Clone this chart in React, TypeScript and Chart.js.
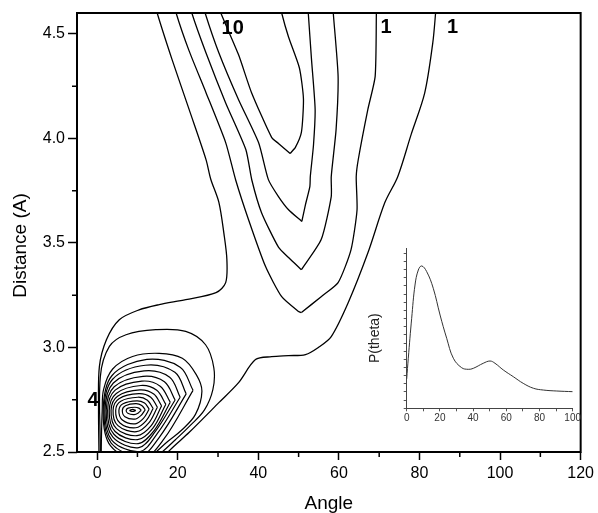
import React, { useEffect, useRef } from 'react';
import { Chart, registerables } from 'chart.js';

Chart.register(...registerables);

type P = [number, number];

// ---------- main axes ----------
const xMajorTicks = [0, 20, 40, 60, 80, 100, 120];
const xMinorTicks = [10, 30, 50, 70, 90, 110];
const yMajorTicks = [2.5, 3.0, 3.5, 4.0, 4.5];
const yMinorTicks = [2.75, 3.25, 3.75, 4.25];
const xTitle = 'Angle';
const yTitle = 'Distance (A)';

// ---------- open contour lines (Angle, Distance) ----------
const outerLeft: P[] = [[14.7, 4.63], [14.9, 4.6], [18.6, 4.377], [22.8, 4.14], [27.0, 3.9], [28.2, 3.805], [30.2, 3.695], [31.5, 3.54], [32.2, 3.42], [31.9, 3.31], [29.5, 3.262], [22.0, 3.229], [15.4, 3.205], [10.4, 3.18], [5.5, 3.133], [2.3, 3.037], [0.55, 2.908], [0.35, 2.7], [0.45, 2.5], [0.45, 2.47]];
const outerRight: P[] = [[84.1, 4.63], [84.0, 4.6], [83.3, 4.457], [81.3, 4.218], [77.9, 4.017], [74.6, 3.817], [71.4, 3.693], [67.2, 3.453], [62.3, 3.214], [58.1, 3.052], [54.9, 3.0], [51.7, 2.966], [47.5, 2.961], [43.3, 2.956], [39.3, 2.942], [35.1, 2.832], [30.2, 2.736], [22.8, 2.593], [17.6, 2.5], [17.0, 2.47]];
// valley contours: left branch down to the tip, right branch from the tip up
const valley1Left: P[] = [[30.4, 4.63], [30.7, 4.6], [35.1, 4.4], [38.3, 4.22], [43.3, 4.005], [45.0, 3.976], [47.9, 3.928]];
const valley1Right: P[] = [[47.9, 3.928], [49.2, 3.957], [50.7, 4.03], [51.2, 4.19], [50.2, 4.337], [47.5, 4.485], [45.8, 4.6], [45.6, 4.63]];
const valley2Left: P[] = [[26.6, 4.63], [26.8, 4.6], [30.2, 4.41], [35.1, 4.185], [40.1, 3.978], [42.5, 3.803], [45.0, 3.722], [47.5, 3.659], [50.8, 3.603]];
const valley2Right: P[] = [[50.8, 3.603], [51.7, 3.683], [52.8, 3.771], [52.9, 3.817], [53.7, 3.97], [54.1, 4.14], [53.2, 4.378], [52.4, 4.6], [52.3, 4.63]];
const valley3Left: P[] = [[23.4, 4.63], [23.5, 4.6], [27.0, 4.41], [31.9, 4.17], [36.9, 3.947], [38.4, 3.8], [40.8, 3.645], [45.0, 3.48], [47.5, 3.43], [50.7, 3.372]];
const valley3Right: P[] = [[50.7, 3.372], [55.6, 3.516], [58.1, 3.722], [58.1, 3.817], [59.3, 4.042], [59.8, 4.297], [58.6, 4.6], [58.5, 4.63]];
const valley4Left: P[] = [[19.5, 4.63], [19.6, 4.6], [22.8, 4.42], [27.0, 4.22], [31.9, 3.98], [34.4, 3.8], [37.6, 3.61], [41.8, 3.387], [45.8, 3.243], [50.0, 3.172], [50.7, 3.167]];
const valley4Right: P[] = [[50.7, 3.167], [55.6, 3.243], [59.8, 3.31], [63.0, 3.467], [64.5, 3.658], [64.3, 3.817], [64.8, 3.898], [67.2, 4.14], [69.0, 4.297], [69.3, 4.6], [69.3, 4.63]];

// ---------- closed rings around the main minimum ----------
const ring0: P[] = [[9.6, 2.699], [8.84, 2.704], [8.1, 2.699], [8.84, 2.694], [9.6, 2.699]];
const ring1: P[] = [[10.94, 2.7], [10.35, 2.71], [9.37, 2.714], [7.69, 2.71], [7.2, 2.699], [7.61, 2.685], [9.16, 2.679], [10.21, 2.687], [10.94, 2.7]];
const ring2: P[] = [[11.93, 2.702], [11.06, 2.723], [9.61, 2.731], [7.03, 2.721], [6.25, 2.699], [6.9, 2.669], [9.3, 2.657], [10.85, 2.674], [11.93, 2.702]];
const ring3: P[] = [[12.91, 2.705], [11.77, 2.734], [9.86, 2.745], [6.43, 2.731], [5.4, 2.699], [6.26, 2.653], [9.45, 2.635], [11.49, 2.661], [12.91, 2.705]];
const ring4: P[] = [[13.9, 2.708], [12.48, 2.748], [10.11, 2.762], [5.87, 2.743], [4.6, 2.699], [5.66, 2.639], [9.6, 2.616], [12.13, 2.649], [13.9, 2.708]];
const ring5: P[] = [[14.95, 2.714], [13.3, 2.762], [10.35, 2.779], [5.42, 2.755], [3.95, 2.699], [5.17, 2.626], [9.75, 2.597], [12.77, 2.638], [14.95, 2.714]];
const ring6: P[] = [[16.0, 2.721], [14.05, 2.777], [10.6, 2.797], [5.07, 2.767], [3.45, 2.699], [4.8, 2.612], [9.9, 2.578], [13.42, 2.626], [16.0, 2.721]];
const ring7: P[] = [[17.05, 2.728], [14.8, 2.795], [10.84, 2.818], [4.75, 2.78], [3.0, 2.699], [4.46, 2.598], [10.04, 2.559], [13.8, 2.613], [17.05, 2.728]];
const ring8: P[] = [[18.15, 2.738], [15.65, 2.815], [11.09, 2.839], [4.47, 2.796], [2.6, 2.699], [4.16, 2.585], [10.19, 2.54], [14.2, 2.604], [18.15, 2.738]];
const ring9: P[] = [[19.35, 2.749], [16.7, 2.836], [11.37, 2.862], [4.23, 2.812], [2.25, 2.699], [3.9, 2.571], [10.36, 2.521], [14.5, 2.6], [19.35, 2.749]];
const ring10: P[] = [[20.6, 2.762], [18.0, 2.858], [11.65, 2.888], [4.02, 2.83], [1.95, 2.699], [3.67, 2.556], [10.52, 2.501], [15.0, 2.59], [20.6, 2.762]];
const ring11: P[] = [[22.1, 2.778], [19.3, 2.881], [11.96, 2.915], [3.84, 2.848], [1.7, 2.699], [3.48, 2.543], [10.71, 2.482], [15.6, 2.575], [22.1, 2.778]];
const ring12: P[] = [[23.8, 2.795], [20.6, 2.906], [12.33, 2.943], [3.7, 2.866], [1.5, 2.699], [3.34, 2.529], [10.93, 2.463], [16.5, 2.56], [23.8, 2.795]];
const ring13: P[] = [[1.0, 2.45], [1.05, 2.55], [1.25, 2.7], [1.6, 2.8], [3.85, 2.897], [8.79, 2.957], [15.38, 2.972], [21.14, 2.948], [24.6, 2.87], [26.0, 2.79], [24.4, 2.68], [21.0, 2.605], [17.5, 2.55], [14.0, 2.49], [12.0, 2.46]];
const ring14: P[] = [[0.75, 2.45], [0.8, 2.511], [0.8, 2.862], [3.04, 3.005], [7.16, 3.061], [14.57, 3.085], [21.98, 3.077], [26.91, 3.013], [28.96, 2.902], [28.72, 2.798], [26.6, 2.7], [23.0, 2.625], [19.5, 2.56], [15.5, 2.49], [13.0, 2.46]];

const contourLines: P[][] = [outerLeft, outerRight];
const valleyLines: P[][] = [valley1Left, valley1Right, valley2Left, valley2Right, valley3Left, valley3Right, valley4Left, valley4Right];
const blobRings: P[][] = [ring0, ring1, ring2, ring3, ring4, ring5, ring6, ring7, ring8, ring9, ring10, ring11, ring12, ring13, ring14];

// ---------- contour level labels ----------
const labelTexts = ['10', '1', '1', '4'];
const labelX = [33.65, 71.7, 88.2, -1.04];
const labelY = [4.525, 4.53, 4.53, 2.745];

// ---------- inset P(theta) ----------
const insetTheta = [0, 0.96, 3.0, 5.0, 7.0, 9.04, 12.05, 16.0, 20.1, 24.1, 28.1, 33.1, 37.1, 40.1, 46.1, 50.2, 53.2, 58.2, 64.2, 70.2, 76.3, 82.3, 90.4, 100];
const insetP = [1.8, 3.07, 5.52, 7.56, 8.48, 8.73, 8.38, 7.36, 5.72, 4.29, 3.07, 2.49, 2.39, 2.45, 2.76, 2.9, 2.76, 2.35, 1.94, 1.53, 1.23, 1.12, 1.06, 1.02];
const insetXTicks = [0, 10, 20, 30, 40, 50, 60, 70, 80, 90, 100];
const insetYTicks = [0, 0.5, 1, 1.5, 2, 2.5, 3, 3.5, 4, 4.5, 5, 5.5, 6, 6.5, 7, 7.5, 8, 8.5, 9, 9.5];
const insetTitle = 'P(theta)';

const FONT = 'Arial, "Liberation Sans", Helvetica, sans-serif';

export default function App() {
  const mainRef = useRef<HTMLCanvasElement>(null);
  const insetRef = useRef<HTMLCanvasElement>(null);

  useEffect(() => {
    if (!mainRef.current || !insetRef.current) return;
    const toXY = (pts: P[]) => pts.map(([x, y]) => ({ x, y }));
    const lineDs = (pts: P[], tension: number, width: number) => ({
      data: toXY(pts),
      showLine: true,
      borderColor: '#000',
      borderWidth: width,
      pointRadius: 0,
      pointHoverRadius: 0,
      tension,
      fill: false,
    });
    const datasets: any[] = [
      ...contourLines.map((p) => lineDs(p, 0.3, 1.3)),
      ...valleyLines.map((p) => lineDs(p, 0.2, 1.3)),
      ...blobRings.map((p) => lineDs(p, 0.35, 1.2)),
    ];

    const decor = {
      id: 'decor',
      afterDraw(chart: any) {
        const { ctx, chartArea: a, scales } = chart;
        const xs = scales.x;
        const ys = scales.y;
        ctx.save();
        ctx.strokeStyle = '#000';
        ctx.lineWidth = 2;
        ctx.strokeRect(a.left, a.top, a.right - a.left, a.bottom - a.top);
        ctx.lineWidth = 1.5;
        ctx.beginPath();
        xMinorTicks.forEach((v) => {
          const px = xs.getPixelForValue(v);
          ctx.moveTo(px, a.bottom);
          ctx.lineTo(px, a.bottom + 5);
        });
        yMinorTicks.forEach((v) => {
          const py = ys.getPixelForValue(v);
          ctx.moveTo(a.left - 5, py);
          ctx.lineTo(a.left, py);
        });
        ctx.stroke();
        ctx.fillStyle = '#000';
        ctx.font = `bold 20px ${FONT}`;
        ctx.textAlign = 'center';
        ctx.textBaseline = 'middle';
        labelTexts.forEach((t, i) => {
          ctx.fillText(t, xs.getPixelForValue(labelX[i]), ys.getPixelForValue(labelY[i]));
        });
        ctx.font = `19px ${FONT}`;
        ctx.textBaseline = 'alphabetic';
        ctx.fillText(xTitle, (a.left + a.right) / 2, a.bottom + 56.5);
        ctx.translate(a.left - 56, (a.top + a.bottom) / 2 + 13);
        ctx.rotate(-Math.PI / 2);
        ctx.textBaseline = 'middle';
        ctx.fillText(yTitle, 0, 0);
        ctx.restore();
      },
    };

    const main = new Chart(mainRef.current, {
      type: 'scatter',
      data: { datasets },
      options: {
        animation: false,
        responsive: false,
        devicePixelRatio: 1,
        events: [],
        layout: { padding: { left: 0, top: 13, right: 15, bottom: 0 } },
        plugins: { legend: { display: false }, tooltip: { enabled: false } },
        scales: {
          x: {
            type: 'linear',
            min: -5,
            max: 120,
            afterBuildTicks: (s: any) => {
              s.ticks = xMajorTicks.map((v) => ({ value: v }));
            },
            afterFit: (s: any) => {
              s.height = 61;
            },
            ticks: { color: '#000', font: { size: 16, family: FONT }, padding: 4, maxRotation: 0, autoSkip: false },
            grid: { drawOnChartArea: false, drawTicks: true, tickLength: 8, tickWidth: 1.5, tickColor: '#000' },
            border: { display: false },
          },
          y: {
            type: 'linear',
            min: 2.5,
            max: 4.6,
            afterBuildTicks: (s: any) => {
              s.ticks = yMajorTicks.map((v) => ({ value: v }));
            },
            afterFit: (s: any) => {
              s.width = 77;
            },
            ticks: {
              color: '#000',
              font: { size: 16, family: FONT },
              padding: 3,
              autoSkip: false,
              callback: (v: any) => Number(v).toFixed(1),
            },
            grid: { drawOnChartArea: false, drawTicks: true, tickLength: 9, tickWidth: 1.5, tickColor: '#000' },
            border: { display: false },
          },
        },
      } as any,
      plugins: [decor],
    });

    const insetDecor = {
      id: 'insetDecor',
      afterDraw(chart: any) {
        const { ctx, chartArea: a } = chart;
        ctx.save();
        ctx.fillStyle = '#222';
        ctx.font = `14px ${FONT}`;
        ctx.textAlign = 'center';
        ctx.textBaseline = 'middle';
        ctx.translate(a.left - 31.7, (a.top + a.bottom) / 2 + 10);
        ctx.rotate(-Math.PI / 2);
        ctx.fillText(insetTitle, 0, 0);
        ctx.restore();
      },
    };

    const inset = new Chart(insetRef.current, {
      type: 'scatter',
      data: {
        datasets: [
          {
            data: insetTheta.map((x, i) => ({ x, y: insetP[i] })),
            showLine: true,
            borderColor: '#333',
            borderWidth: 1,
            pointRadius: 0,
            tension: 0.4,
            fill: false,
          },
        ],
      },
      options: {
        animation: false,
        responsive: false,
        devicePixelRatio: 1,
        events: [],
        layout: { padding: { left: 0, top: 8, right: 12.3, bottom: 0 } },
        plugins: { legend: { display: false }, tooltip: { enabled: false } },
        scales: {
          x: {
            type: 'linear',
            min: 0,
            max: 100,
            afterBuildTicks: (s: any) => {
              s.ticks = insetXTicks.map((v) => ({ value: v }));
            },
            afterFit: (s: any) => {
              s.height = 21.7;
            },
            ticks: {
              color: '#333',
              font: { size: 10, family: FONT },
              padding: 1,
              maxRotation: 0,
              autoSkip: false,
              callback: (v: any) => (Number(v) % 20 === 0 ? String(v) : ''),
            },
            grid: { drawOnChartArea: false, drawTicks: true, tickLength: 3, tickWidth: 1, tickColor: '#555' },
            border: { display: true, color: '#444', width: 1 },
          },
          y: {
            type: 'linear',
            min: 0,
            max: 9.83,
            afterBuildTicks: (s: any) => {
              s.ticks = insetYTicks.map((v) => ({ value: v }));
            },
            afterFit: (s: any) => {
              s.width = 46.7;
            },
            ticks: { display: true, callback: () => '', font: { size: 4 } },
            grid: { drawOnChartArea: false, drawTicks: true, tickLength: 3, tickWidth: 1, tickColor: '#555' },
            border: { display: true, color: '#444', width: 1 },
          },
        },
      } as any,
      plugins: [insetDecor],
    });

    return () => {
      main.destroy();
      inset.destroy();
    };
  }, []);

  return (
    <div style={{ position: 'fixed', left: 0, top: 0, width: 598, height: 513, background: '#fff' }}>
      <canvas ref={mainRef} width={598} height={513} style={{ position: 'absolute', left: 0, top: 0 }} />
      <canvas
        ref={insetRef}
        width={225}
        height={190}
        style={{ position: 'absolute', left: 360, top: 240, pointerEvents: 'none' }}
      />
    </div>
  );
}
